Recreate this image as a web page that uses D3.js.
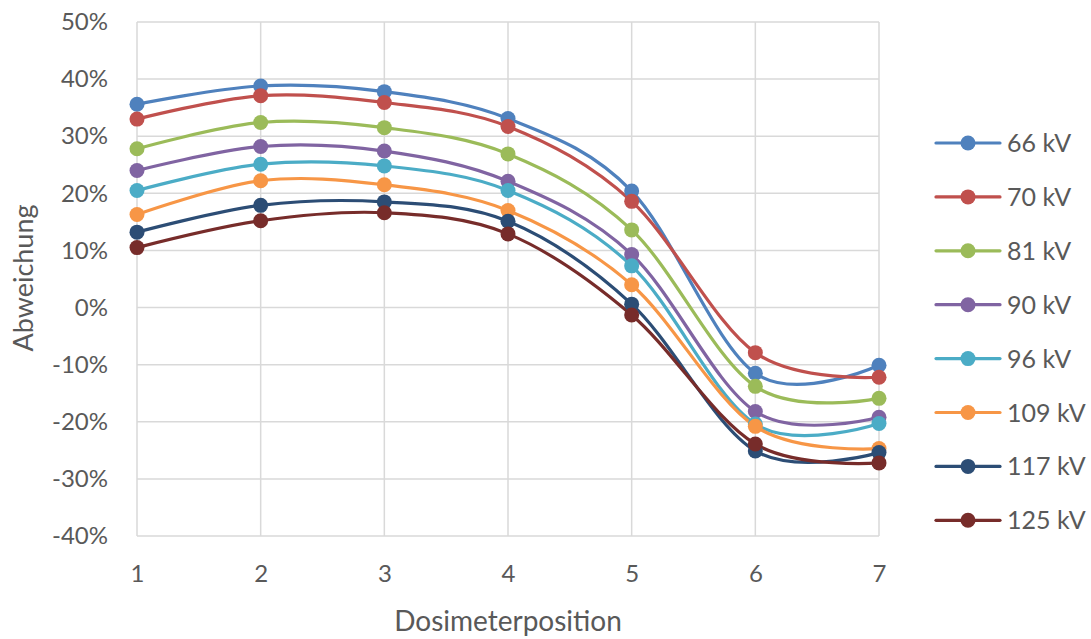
<!DOCTYPE html>
<html>
<head>
<meta charset="utf-8">
<script src="https://cdn.jsdelivr.net/npm/d3@7/dist/d3.min.js"></script>
<style>
  html, body { margin: 0; padding: 0; background: #fff; }
  svg { display: block; }
  text { font-family: Lato, "Open Sans", sans-serif; fill: #595959; }
</style>
</head>
<body>
<svg id="chart" width="1091" height="639"></svg>
<script>
// Dosimeter positions along the x axis
const positions = [1, 2, 3, 4, 5, 6, 7];
// Tube voltages (legend order)
const series = ["66 kV", "70 kV", "81 kV", "90 kV", "96 kV", "109 kV", "117 kV", "125 kV"];
// Deviation per position, in percent
const v66  = [35.6, 38.8, 37.8, 33.1, 20.4, -11.5, -10.1];
const v70  = [33.0, 37.1, 35.9, 31.7, 18.6, -7.9, -12.2];
const v81  = [27.8, 32.4, 31.5, 26.9, 13.6, -13.8, -15.9];
const v90  = [24.0, 28.2, 27.4, 22.1, 9.3, -18.2, -19.2];
const v96  = [20.5, 25.1, 24.8, 20.5, 7.3, -20.4, -20.3];
const v109 = [16.3, 22.2, 21.5, 17.0, 4.0, -20.8, -24.7];
const v117 = [13.2, 17.9, 18.5, 15.1, 0.6, -25.1, -25.4];
const v125 = [10.5, 15.2, 16.6, 12.9, -1.3, -23.9, -27.2];
const values = [v66, v70, v81, v90, v96, v109, v117, v125];
const colors = ["#4F81BD", "#C0504D", "#9BBB59", "#8064A2", "#4BACC6", "#F79646", "#2C4D75", "#772C2A"];
// Y axis ticks
const yTicks = [50, 40, 30, 20, 10, 0, -10, -20, -30, -40];

const FONT = "Lato, 'Open Sans', sans-serif";
const svg = d3.select("#chart");
const x = d3.scaleLinear().domain([1, 7]).range([137, 879]);
const y = d3.scaleLinear().domain([-40, 50]).range([536, 22]);

// Gridlines
const grid = svg.append("g");
grid.selectAll("line.h").data(yTicks).join("line")
  .attr("x1", x(1)).attr("x2", x(7))
  .attr("y1", d => y(d)).attr("y2", d => y(d))
  .attr("stroke", "#d9d9d9").attr("stroke-width", 1.5);
grid.selectAll("line.v").data(positions).join("line")
  .attr("x1", d => x(d)).attr("x2", d => x(d))
  .attr("y1", y(50)).attr("y2", y(-40))
  .attr("stroke", "#d9d9d9").attr("stroke-width", 1.5);

// Axes
const yAxis = d3.axisLeft(y).tickValues(yTicks).tickSize(0).tickPadding(29)
  .tickFormat(d => d + "%");
svg.append("g").attr("transform", `translate(${x(1)},0)`).call(yAxis)
  .call(g => g.select(".domain").remove())
  .selectAll("text").attr("font-size", 24).style("fill", "#595959")
  .style("font-family", FONT);

const xAxis = d3.axisBottom(x).tickValues(positions).tickSize(0).tickPadding(29)
  .tickFormat(d3.format("d"));
svg.append("g").attr("transform", `translate(0,${y(-40)})`).call(xAxis)
  .call(g => g.select(".domain").remove())
  .selectAll("text").attr("font-size", 24).style("fill", "#595959")
  .style("font-family", FONT);

// Axis titles
svg.append("text").attr("x", 508).attr("y", 631).attr("text-anchor", "middle")
  .attr("font-size", 28).text("Dosimeterposition");
svg.append("text").attr("transform", "translate(33,278) rotate(-90)")
  .attr("text-anchor", "middle").attr("font-size", 27).text("Abweichung");

// Smoothed series lines and markers
const line = d3.line().x((d, i) => x(positions[i])).y(d => y(d))
  .curve(d3.curveCardinal.tension(0));
const plot = svg.append("g");
values.forEach((vals, k) => {
  plot.append("path").attr("d", line(vals)).attr("fill", "none")
    .attr("stroke", colors[k]).attr("stroke-width", 3.2).attr("stroke-linecap", "round");
});
values.forEach((vals, k) => {
  plot.selectAll(null).data(vals).join("circle")
    .attr("cx", (d, i) => x(positions[i])).attr("cy", d => y(d)).attr("r", 7.5)
    .attr("fill", colors[k]);
});

// Legend
const legend = svg.append("g");
series.forEach((name, k) => {
  const ly = 143 + k * 53.9;
  legend.append("line").attr("x1", 936).attr("x2", 1000).attr("y1", ly).attr("y2", ly)
    .attr("stroke", colors[k]).attr("stroke-width", 3.2).attr("stroke-linecap", "round");
  legend.append("circle").attr("cx", 968).attr("cy", ly).attr("r", 7.5).attr("fill", colors[k]);
  legend.append("text").attr("x", 1007).attr("y", ly).attr("dy", "0.36em")
    .attr("font-size", 25).text(name);
});
</script>
</body>
</html>
